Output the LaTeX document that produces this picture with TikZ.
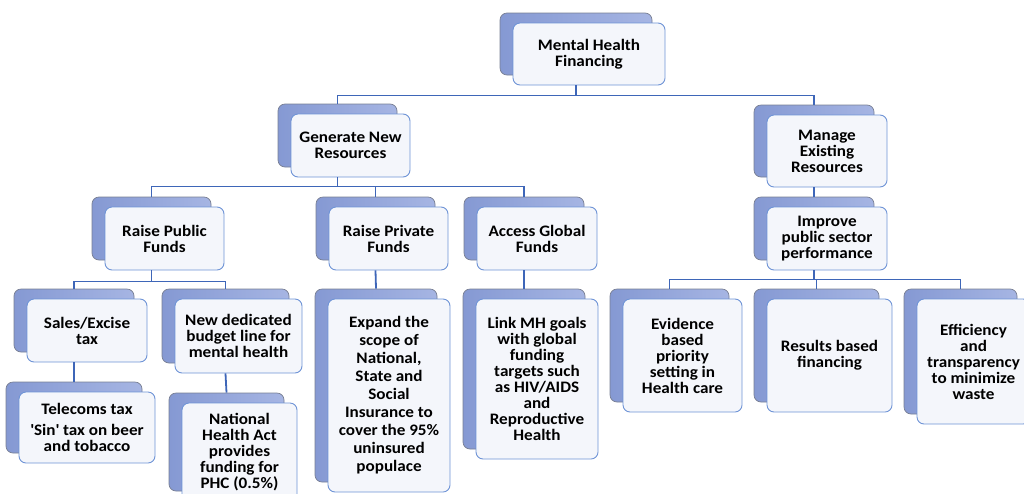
\documentclass[tikz,border=0pt]{standalone}
\usepackage{fontspec}
\setmainfont{Carlito}[FakeStretch=1.07]
\usepackage{xcolor}
\usetikzlibrary{positioning, shadows}
\definecolor{cardline}{RGB}{110,147,214}
\definecolor{cardfill}{RGB}{244,246,251}
\definecolor{backleft}{RGB}{133,153,211}
\definecolor{backright}{RGB}{166,181,227}
\definecolor{backline}{RGB}{120,127,147}
\definecolor{conncol}{RGB}{62,102,184}
\newcommand{\sq}{\textquotesingle}

\begin{document}
\begin{tikzpicture}[
		x=1pt, y=-1pt,
		mhnode/.style={draw=cardline, fill=cardfill, line width=0.9pt, rounded corners=7pt,
			align=center, inner sep=2pt, minimum width=119pt, minimum height=63pt,
			font=\bfseries\fontsize{16}{16}\selectfont,
			copy shadow={shadow xshift=-13pt, shadow yshift=10pt, left color=backleft,
				right color=backright, draw=backline, line width=0.7pt}},
		conn/.style={draw=conncol, line width=1.8pt},
	]
	\useasboundingbox (0,0) rectangle (1024,493);
	\node[mhnode, minimum width=152pt, minimum height=62pt] (root) at (589, 54) {Mental Health\\Financing};
	\node[mhnode] (gen) at (350.5, 145.5) {Generate New\\Resources};
	\node[mhnode, minimum width=120pt, minimum height=72pt] (man) at (827, 151) {Manage\\Existing\\Resources};
	\node[mhnode] (pub) at (164.5, 238.5) {Raise Public\\Funds};
	\node[mhnode] (priv) at (388.5, 238.5) {Raise Private\\Funds};
	\node[mhnode, minimum width=120pt] (glob) at (537, 238.5) {Access Global\\Funds};
	\node[mhnode, minimum width=120pt] (impr) at (827, 238.5) {Improve\\public sector\\performance};
	\node[mhnode, minimum width=120pt] (sales) at (87, 330.5) {Sales/Excise\\tax};
	\node[mhnode, minimum width=127pt, minimum height=74pt] (newd) at (238.5, 336) {New dedicated\\budget line for\\mental health};
	\node[mhnode, minimum width=136pt, minimum height=71pt] (tele) at (87, 427.5) {Telecoms tax\\[5pt]\sq Sin\sq{} tax on beer\\and tobacco};
	\node[mhnode, minimum width=115pt, minimum height=98pt] (nha) at (239.5, 452) {National\\Health Act\\provides\\funding for\\PHC (0.5\%)};
	\node[mhnode, minimum width=122pt, minimum height=193pt, font=\bfseries\fontsize{16}{18}\selectfont] (expand) at (389, 395.5) {Expand the\\scope of\\National,\\State and\\Social\\Insurance to\\cover the 95\%\\uninsured\\populace};
	\node[mhnode, minimum width=122pt, minimum height=160pt] (linkmh) at (537, 379) {Link MH goals\\with global\\funding\\targets such\\as HIV/AIDS\\and\\Reproductive\\Health};
	\node[mhnode, minimum height=113pt] (evid) at (682.5, 355.5) {Evidence\\based\\priority\\setting in\\Health care};
	\node[mhnode, minimum width=125pt, minimum height=113pt] (res) at (829.5, 355.5) {Results based\\financing};
	\node[mhnode, minimum width=113pt, minimum height=125pt] (eff) at (973.5, 361.5) {Efficiency\\and\\transparency\\to minimize\\waste};

	\draw[conn] ([xshift=-13pt]root.south) -- ++(0,10) -| ([xshift=-13pt, yshift=10pt]gen.north);
	\draw[conn] ([xshift=-13pt]root.south) -- ++(0,10) -| ([xshift=-13pt, yshift=10pt]man.north);
	\draw[conn] ([xshift=-13pt]gen.south) -- ++(0,9) -| ([xshift=-13pt, yshift=10pt]pub.north);
	\draw[conn] ([xshift=-13pt]gen.south) -- ++(0,9) -| ([xshift=-13pt, yshift=10pt]priv.north);
	\draw[conn] ([xshift=-13pt]gen.south) -- ++(0,9) -| ([xshift=-13pt, yshift=10pt]glob.north);
	\draw[conn] ([xshift=-13pt]man.south) -- ([xshift=-13pt, yshift=10pt]impr.north);
	\draw[conn] ([xshift=-13pt]impr.south) -- ++(0,9) -| ([xshift=-13pt, yshift=10pt]evid.north);
	\draw[conn] ([xshift=-13pt]impr.south) -- ++(0,9) -| ([xshift=-13pt, yshift=10pt]res.north);
	\draw[conn] ([xshift=-13pt]impr.south) -- ++(0,9) -| ([xshift=-13pt, yshift=10pt]eff.north);
	\draw[conn] ([xshift=-13pt]pub.south) -- ++(0,11) -| ([xshift=-13pt, yshift=10pt]sales.north);
	\draw[conn] ([xshift=-13pt]pub.south) -- ++(0,11) -| ([xshift=-13pt, yshift=10pt]newd.north);
	\draw[conn] ([xshift=-13pt]priv.south) -- ([xshift=-13pt, yshift=10pt]expand.north);
	\draw[conn] ([xshift=-13pt]glob.south) -- ([xshift=-13pt, yshift=10pt]linkmh.north);
	\draw[conn] ([xshift=-13pt]sales.south) -- ([xshift=-13pt, yshift=10pt]tele.north);
	\draw[conn] ([xshift=-13pt]newd.south) -- ([xshift=-13pt, yshift=10pt]nha.north);
\end{tikzpicture}
\end{document}
